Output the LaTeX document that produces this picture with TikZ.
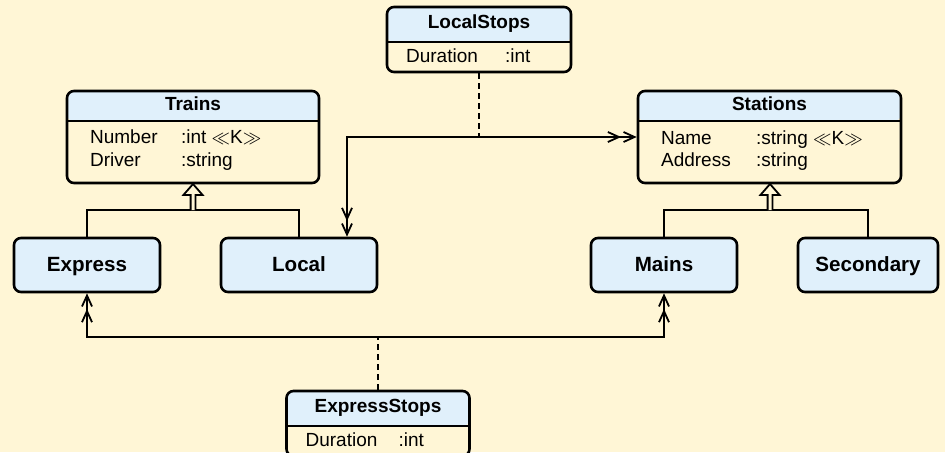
\documentclass[tikz,border=0pt]{standalone}
\usepackage{fontspec}
\setmainfont{Liberation Sans}
\usetikzlibrary{arrows.meta, positioning, calc}
\definecolor{paper}{RGB}{255,246,214}
\definecolor{headblue}{RGB}{224,240,251}
\newcommand{\keymark}{$\ll$K$\gg$}
\newcommand{\attr}[3]{\makebox[#1][l]{#2}#3}
\tikzset{
  classbox/.style={rectangle, rounded corners=3.5pt, draw, line width=1.3pt, fill=paper, inner sep=0pt,
    path picture={
      \fill[headblue] (path picture bounding box.north west) rectangle ([yshift=-#1]path picture bounding box.north east);
      \draw[line width=1.2pt] ([yshift=-#1]path picture bounding box.north west) -- ([yshift=-#1]path picture bounding box.north east);
    }},
  subclass/.style={rectangle, rounded corners=3.5pt, draw, line width=1.3pt, fill=headblue, minimum height=27pt,
    text height=7.6pt, text depth=1.6pt, font=\bfseries\fontsize{10.3}{12}\selectfont},
  classtitle/.style={anchor=base, inner sep=0pt, font=\bfseries\fontsize{9.5}{11}\selectfont},
  attrrow/.style={anchor=base west, inner sep=0pt, font=\fontsize{9.5}{11}\selectfont},
  Barbs/.tip={Straight Barb[length=5.5pt,width=5pt,sep=0.8pt] Straight Barb[length=5.5pt,width=5pt]},
  link/.style={line width=0.9pt},
  assoc/.style={link, {Barbs}-{Barbs}},
  dashedlink/.style={link, dash pattern=on 3pt off 2pt},
  hollowtip/.pic={\draw[line width=0.9pt, fill=paper] (-1.2pt,0pt) -- (-1.2pt,7.5pt) -- (-4.8pt,7.5pt) -- (0pt,13pt) -- (4.8pt,7.5pt) -- (1.2pt,7.5pt) -- (1.2pt,0pt);}
}

\begin{document}
\begin{tikzpicture}[x=0.5pt, y=-0.5pt]
    \fill[paper] (0,0) rectangle (945,452);
    \useasboundingbox (0,0) rectangle (945,452);

    % Classes
    \node [classbox=17.5pt, minimum width=92pt, minimum height=32.5pt] (localstops) at (479,39.5) {};
    \node [classbox=15pt, minimum width=126pt, minimum height=46pt] (trains) at (193,137) {};
    \node [classbox=15pt, minimum width=131.5pt, minimum height=46pt] (stations) at (769.5,137) {};
    \node [classbox=17.5pt, minimum width=91.5pt, minimum height=32.5pt] (expressstops) at (378,423.5) {};

    \node [subclass, minimum width=73pt] (express) at (87,265) {Express};
    \node [subclass, minimum width=78pt, right=29.2pt of express] (local) {Local};
    \node [subclass, minimum width=73pt] (mains) at (664,265) {Mains};
    \node [subclass, minimum width=70pt, right=29.2pt of mains] (secondary) {Secondary};

    % Texts
    \node [classtitle] at ([yshift=-11.5pt]localstops.north) {LocalStops};
    \node [attrrow] at ([shift={(10pt,-28.5pt)}]localstops.north west) {\attr{49.5pt}{Duration}{:int}};
    \node [classtitle] at ([yshift=-10.5pt]trains.north) {Trains};
    \node [attrrow] at ([shift={(12pt,-27pt)}]trains.north west) {\attr{45.5pt}{Number}{:int \keymark}};
    \node [attrrow] at ([shift={(12pt,-38.5pt)}]trains.north west) {\attr{45.5pt}{Driver}{:string}};
    \node [classtitle] at ([yshift=-10.5pt]stations.north) {Stations};
    \node [attrrow] at ([shift={(12pt,-27.5pt)}]stations.north west) {\attr{47.5pt}{Name}{:string \keymark}};
    \node [attrrow] at ([shift={(12pt,-38.5pt)}]stations.north west) {\attr{47.5pt}{Address}{:string}};
    \node [classtitle] at ([yshift=-11.5pt]expressstops.north) {ExpressStops};
    \node [attrrow] at ([shift={(10pt,-28.5pt)}]expressstops.north west) {\attr{46.5pt}{Duration}{:int}};

    % Joints
    \coordinate (tjoin) at (193,210);
    \coordinate (sjoin) at (770,210);
    \coordinate (lbend) at (347,137);
    \coordinate (esjoin) at (378,337);

    % Inheritance
    \draw [link] (express.north) |- (tjoin) -| (local.north);
    \pic at (tjoin) {hollowtip};
    \draw [link] (mains.north) |- (sjoin) -| (secondary.north);
    \pic at (sjoin) {hollowtip};

    % Associations
    \draw [assoc] (lbend |- local.north) -- (lbend) -- (stations.west);
    \draw [dashedlink] (localstops.south) -- (localstops.south |- lbend);
    \draw [assoc] (express.south) |- (esjoin) -| (mains.south);
    \draw [dashedlink] (expressstops.north) -- (esjoin);
\end{tikzpicture}
\end{document}
